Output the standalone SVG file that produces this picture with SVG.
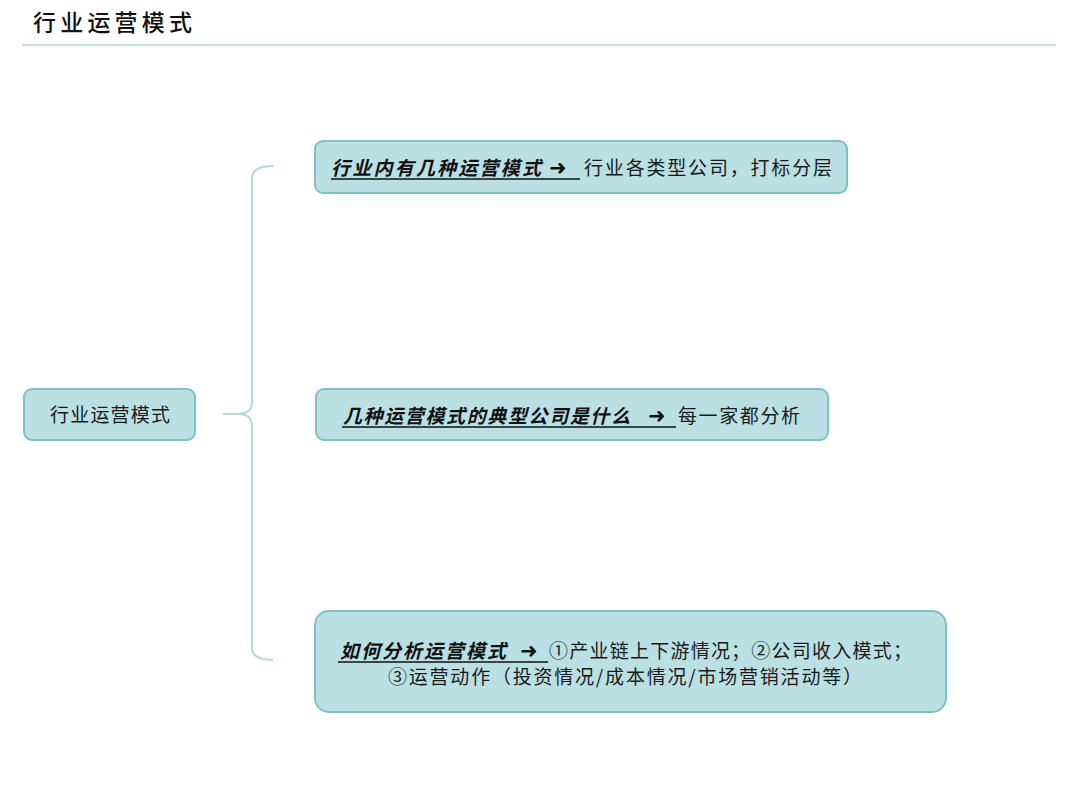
<svg xmlns="http://www.w3.org/2000/svg" width="1080" height="802" viewBox="0 0 1080 802">
<style>
.box{fill:#bae0e3;stroke:#80bfc3;stroke-width:2}
.t{font-family:"Noto Sans CJK SC","Noto Sans",sans-serif;font-size:19px;fill:#1a1a1a}
.it{font-family:"Noto Sans CJK SC","Noto Sans",sans-serif;font-size:19px;font-style:italic;font-weight:700;fill:#111}
.ar{font-family:"DejaVu Sans",sans-serif;font-size:21px;font-weight:700;fill:#111}
.ul{stroke:#111;stroke-width:1.5}
.conn{fill:none;stroke:#b5dadd;stroke-width:2}
</style>
<rect width="1080" height="802" fill="#ffffff"/>
<g id="title">
<text x="33" y="31" font-family="Noto Sans CJK SC,sans-serif" font-size="23" font-weight="500" fill="#111" textLength="159" lengthAdjust="spacing">行业运营模式</text>
<line x1="22" y1="45" x2="1056" y2="45" stroke="#c6e0e3" stroke-width="2"/>
</g>
<g id="connectors">
<path class="conn" d="M273,166 Q252,166 252,178 L252,402 Q252,414 238,414 L223,414 M238,414 Q252,414 252,426 L252,648 Q252,660 273,660"/>
</g>
<g id="root">
<rect class="box" x="24" y="389" width="171" height="51" rx="8"/>
<text class="t" x="50" y="422" font-size="18" textLength="120" lengthAdjust="spacing">行业运营模式</text>
</g>
<g id="node1">
<rect class="box" x="315" y="141" width="532" height="52" rx="8"/>
<text class="it" x="331" y="175" textLength="210" lengthAdjust="spacing">行业内有几种运营模式</text>
<text class="ar" x="549" y="175">➜</text>
<line class="ul" x1="331" y1="179" x2="580" y2="179"/>
<text class="t" x="584" y="175" textLength="248" lengthAdjust="spacing">行业各类型公司，打标分层</text>
</g>
<g id="node2">
<rect class="box" x="316" y="389" width="512" height="51" rx="8"/>
<text class="it" x="343" y="423" textLength="287" lengthAdjust="spacing">几种运营模式的典型公司是什么</text>
<text class="ar" x="648" y="423">➜</text>
<line class="ul" x1="342" y1="427" x2="676" y2="427"/>
<text class="t" x="678" y="423" textLength="122" lengthAdjust="spacing">每一家都分析</text>
</g>
<g id="node3">
<rect class="box" x="315" y="611" width="631" height="101" rx="14"/>
<text class="it" x="340" y="658" textLength="166" lengthAdjust="spacing">如何分析运营模式</text>
<text class="ar" x="520" y="658">➜</text>
<line class="ul" x1="338" y1="662" x2="548" y2="662"/>
<text class="t" x="549" y="658" textLength="363" lengthAdjust="spacing">①产业链上下游情况；②公司收入模式；</text>
<text class="t" x="388" y="684" textLength="474" lengthAdjust="spacing">③运营动作（投资情况/成本情况/市场营销活动等）</text>
</g>
</svg>
